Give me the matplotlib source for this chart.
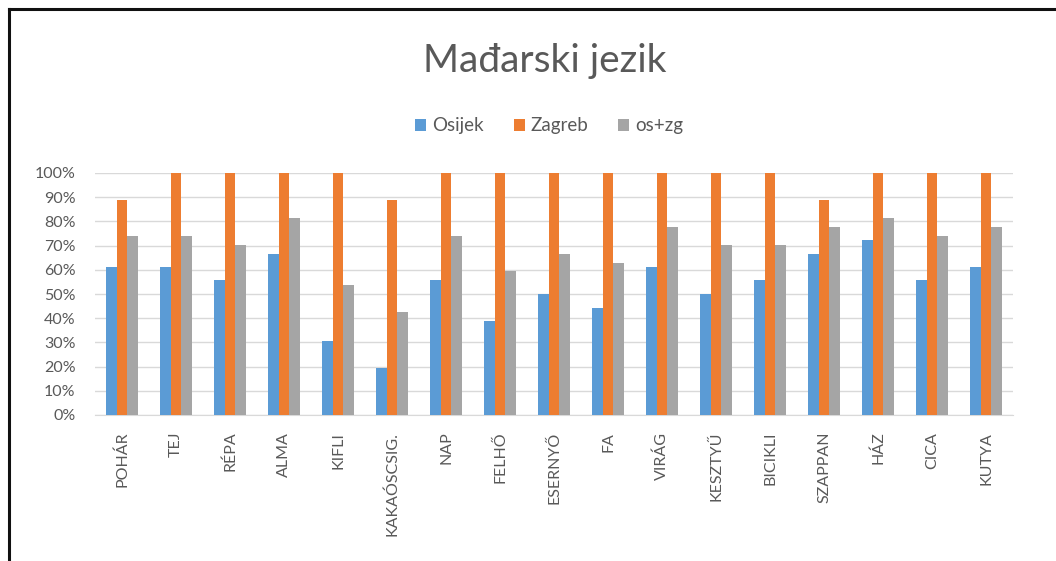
import matplotlib
matplotlib.use("Agg")
import matplotlib.pyplot as plt
import numpy as np
from matplotlib.patches import Patch
from matplotlib.lines import Line2D
from matplotlib.ticker import PercentFormatter, MultipleLocator

categories = ["POHÁR", "TEJ", "RÉPA", "ALMA", "KIFLI", "KAKAÓSCSIG.", "NAP", "FELHŐ",
              "ESERNYŐ", "FA", "VIRÁG", "KESZTYŰ", "BICIKLI", "SZAPPAN", "HÁZ", "CICA", "KUTYA"]
osijek = [61.1, 61.1, 55.6, 66.7, 30.6, 19.4, 55.6, 38.9, 50.0, 44.4, 61.1, 50.0, 55.6, 66.7, 72.2, 55.6, 61.1]
zagreb = [88.9, 100, 100, 100, 100, 88.9, 100, 100, 100, 100, 100, 100, 100, 88.9, 100, 100, 100]
oszg = [74.1, 74.1, 70.4, 81.5, 53.7, 42.6, 74.1, 59.3, 66.7, 63.0, 77.8, 70.4, 70.4, 77.8, 81.5, 74.1, 77.8]
series_names = ["Osijek", "Zagreb", "os+zg"]
colors = ["#5B9BD5", "#ED7D31", "#A5A5A5"]
text_col = "#595959"

plt.rcParams['font.family'] = ['Lato', 'DejaVu Sans']

fig = plt.figure(figsize=(10.56, 5.61), dpi=100)
ax = fig.add_axes([95/1056, 1-415/561, (1013-95)/1056, (415-173)/561])

x = np.arange(len(categories))
w = 0.195
for i, (vals, c, n) in enumerate(zip([osijek, zagreb, oszg], colors, series_names)):
    ax.bar(x + (i-1)*w, vals, width=w, color=c, label=n, zorder=3)

ax.set_xlim(-0.5, len(categories)-0.5)
ax.set_ylim(0, 100)
ax.yaxis.set_major_locator(MultipleLocator(10))
ax.yaxis.set_major_formatter(PercentFormatter(decimals=0))
ax.grid(axis='y', color='#D9D9D9', linewidth=1, zorder=0)
for s in ['top', 'right', 'left']:
    ax.spines[s].set_visible(False)
ax.spines['bottom'].set_color('#D9D9D9')
ax.tick_params(axis='both', length=0, colors=text_col, labelsize=11.5)
ax.tick_params(axis='y', pad=14)
ax.tick_params(axis='x', pad=12)
ax.set_xticks(x)
ax.set_xticklabels(categories, rotation=90)

fig.text(545/1056, 1-61/561, "Mađarski jezik", ha='center', va='center',
         fontsize=28, color=text_col, fontweight='normal')

handles = [Patch(facecolor=c, edgecolor='none', label=n) for c, n in zip(colors, series_names)]
fig.legend(handles=handles, loc='center', bbox_to_anchor=(549/1056, 1-126/561), ncol=3,
           frameon=False, fontsize=13.5, labelcolor=text_col, handlelength=0.6,
           handleheight=0.6, handletextpad=0.3, columnspacing=1.6)

# border lines (left and top)
fig.add_artist(Line2D([9/1056, 9/1056], [0, 1-9/561], color='#111111', linewidth=2.2, transform=fig.transFigure))
fig.add_artist(Line2D([9/1056, 1], [1-9/561, 1-9/561], color='#111111', linewidth=2.2, transform=fig.transFigure))

fig.savefig("out.png", dpi=100, facecolor='white')
